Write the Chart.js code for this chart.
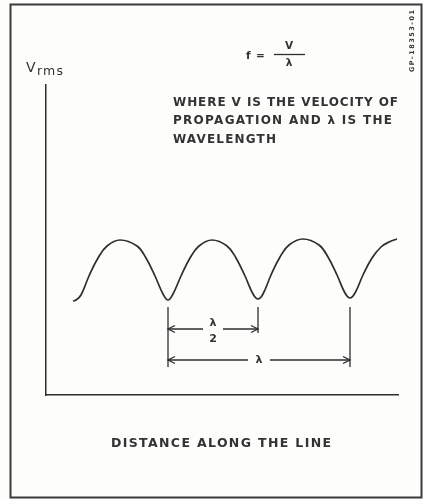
<!DOCTYPE html>
<html lang="en">
<head>
    <meta charset="UTF-8">
    <title>Vrms along the line</title>
    <script src="https://cdn.jsdelivr.net/npm/chart.js"></script>
    <style>
        body {
            margin: 0;
            background-color: #ffffff;
        }
        canvas {
            display: block;
        }
    </style>
</head>
<body>
    <canvas id="waveChart" width="424" height="500"></canvas>

    <script>
        // Distance along the line (arbitrary units) and Vrms
        const distance = [27, 30, 35, 43, 52, 61, 74, 91, 100, 109, 117, 122,
                          127, 135, 144, 153, 166, 181, 190, 199, 207, 212,
                          217, 225, 234, 243, 257, 273, 282, 291, 299, 304,
                          309, 317, 326, 335, 343, 351];
        const vrms = [94, 95, 100, 119, 137, 149, 155, 149, 137, 119, 101, 95,
                      101, 119, 137, 149, 155, 149, 137, 119, 101, 96,
                      101, 120, 138, 150, 156, 150, 138, 120, 102, 97,
                      102, 120, 137, 148, 153, 156];

        // Voltage minima used for the λ/2 and λ dimensions
        const nodeDistance = [122, 212, 304];
        const halfWaveLevel = 66;   // Vrms level of the λ/2 arrow
        const fullWaveLevel = 35;   // Vrms level of the λ arrow
        const extensionTop = 88;
        const extensionBottom = [28, 62, 28];

        const ink = '#2e2e2e';
        const family = '"DejaVu Sans", sans-serif';

        // Draw text stretched with letter spacing to a given width
        function spacedText(ctx, text, x, y, width, font) {
            ctx.font = font;
            ctx.letterSpacing = '0px';
            const natural = ctx.measureText(text).width;
            const gap = text.length > 1 ? (width - natural) / (text.length - 1) : 0;
            ctx.letterSpacing = gap + 'px';
            ctx.fillText(text, x, y);
            ctx.letterSpacing = '0px';
        }

        function arrowHead(ctx, x, y, dir) {
            ctx.beginPath();
            ctx.moveTo(x - dir * 7, y - 3.5);
            ctx.lineTo(x, y);
            ctx.lineTo(x - dir * 7, y + 3.5);
            ctx.stroke();
        }

        // Dimension arrow between two pixels, with a gap for the label
        function dimension(ctx, x1, x2, y, halfGap) {
            const mid = (x1 + x2) / 2;
            ctx.beginPath();
            ctx.moveTo(x1, y);
            ctx.lineTo(mid - halfGap, y);
            ctx.moveTo(mid + halfGap, y);
            ctx.lineTo(x2, y);
            ctx.stroke();
            arrowHead(ctx, x1, y, -1);
            arrowHead(ctx, x2, y, 1);
        }

        const framePlugin = {
            id: 'frame',
            beforeDraw(chart) {
                const ctx = chart.ctx;
                ctx.save();
                ctx.fillStyle = '#fdfdfc';
                ctx.fillRect(0, 0, chart.width, chart.height);
                ctx.strokeStyle = '#3a3a3a';
                ctx.lineWidth = 2;
                ctx.strokeRect(10.5, 4.5, 411, 493);
                ctx.restore();
            }
        };

        const notesPlugin = {
            id: 'notes',
            afterDraw(chart) {
                const ctx = chart.ctx;
                const xs = chart.scales.x;
                const ys = chart.scales.y;
                const bold = size => 'bold ' + size + 'px ' + family;
                ctx.save();
                ctx.fillStyle = '#333333';
                ctx.strokeStyle = ink;
                ctx.lineWidth = 1.3;
                ctx.textBaseline = 'alphabetic';
                ctx.textAlign = 'left';

                // y axis label
                ctx.font = '14px ' + family;
                ctx.fillText('V', 26, 72);
                spacedText(ctx, 'rms', 37, 75, 26, '12.5px ' + family);

                // formula f = V / λ
                ctx.textBaseline = 'middle';
                ctx.font = bold(10.5);
                ctx.fillText('f', 246, 56);
                ctx.fillText('=', 256, 56);
                ctx.textAlign = 'center';
                ctx.fillText('V', 289, 46);
                ctx.fillText('λ', 289, 63);
                ctx.beginPath();
                ctx.moveTo(274, 54.5);
                ctx.lineTo(305, 54.5);
                ctx.stroke();

                // explanation
                ctx.textAlign = 'left';
                spacedText(ctx, 'WHERE V IS THE VELOCITY OF', 173, 103, 225, bold(12));
                spacedText(ctx, 'PROPAGATION AND λ IS THE', 173, 121, 219, bold(12));
                spacedText(ctx, 'WAVELENGTH', 173, 140, 103, bold(12));

                // x axis label
                spacedText(ctx, 'DISTANCE ALONG THE LINE', 111, 444, 220, bold(12.5));

                // drawing number, rotated
                ctx.save();
                ctx.translate(412, 41);
                ctx.rotate(-Math.PI / 2);
                spacedText(ctx, 'GP-18353-01', -31, 0, 62, bold(6.5));
                ctx.restore();

                // extension lines below the minima
                const px = nodeDistance.map(v => xs.getPixelForValue(v));
                nodeDistance.forEach((v, i) => {
                    ctx.beginPath();
                    ctx.moveTo(px[i], ys.getPixelForValue(extensionTop));
                    ctx.lineTo(px[i], ys.getPixelForValue(extensionBottom[i]));
                    ctx.stroke();
                });

                // λ/2 and λ dimensions
                const yHalf = ys.getPixelForValue(halfWaveLevel);
                const yFull = ys.getPixelForValue(fullWaveLevel);
                dimension(ctx, px[0], px[1], yHalf, 10);
                dimension(ctx, px[0], px[2], yFull, 11);

                ctx.textAlign = 'center';
                ctx.font = bold(11);
                ctx.fillText('λ', (px[0] + px[1]) / 2, yHalf - 6);
                ctx.fillText('2', (px[0] + px[1]) / 2, yHalf + 10);
                ctx.fillText('λ', (px[0] + px[2]) / 2, yFull);
                ctx.restore();
            }
        };

        const ctx = document.getElementById('waveChart').getContext('2d');
        const waveChart = new Chart(ctx, {
            type: 'line',
            data: {
                datasets: [{
                    label: 'Vrms',
                    data: distance.map((d, i) => ({ x: d, y: vrms[i] })),
                    borderColor: ink,
                    borderWidth: 1.7,
                    pointRadius: 0,
                    tension: 0.4,
                    fill: false
                }]
            },
            options: {
                responsive: false,
                animation: false,
                layout: {
                    padding: { left: 46, right: 26, top: 85, bottom: 105 }
                },
                scales: {
                    x: {
                        type: 'linear',
                        min: 0,
                        max: 352,
                        ticks: { display: false },
                        grid: { display: false, drawTicks: false },
                        border: { display: true, color: ink, width: 1.5 }
                    },
                    y: {
                        min: 0,
                        max: 310,
                        ticks: { display: false },
                        grid: { display: false, drawTicks: false },
                        border: { display: true, color: ink, width: 1.5 }
                    }
                },
                plugins: {
                    legend: { display: false },
                    tooltip: { enabled: false }
                }
            },
            plugins: [framePlugin, notesPlugin]
        });
    </script>
</body>
</html>
